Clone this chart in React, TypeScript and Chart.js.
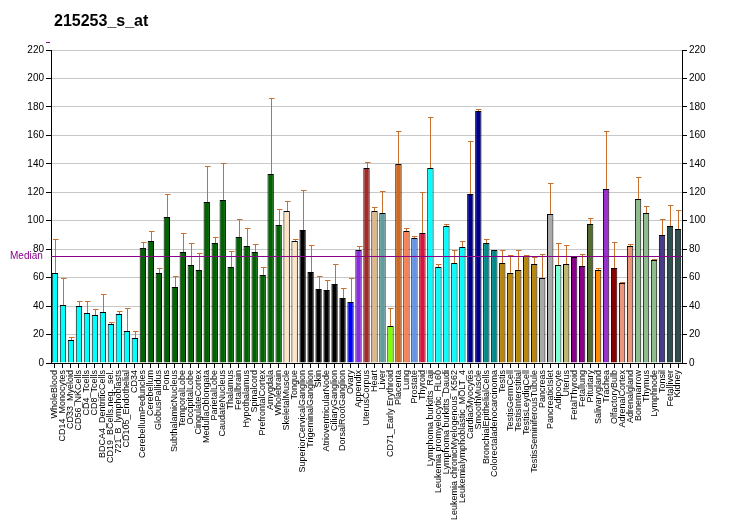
import React, { useEffect, useRef } from "react";
import { Chart, registerables } from "chart.js";

Chart.register(...registerables);

const title = "215253_s_at";

const categories = [
  "WholeBlood", "CD14_Monocytes", "CD33_Myeloid", "CD56_NKCells", "CD4_Tcells", "CD8_Tcells",
  "BDCA4_DentriticCells", "CD19_BCells.neg._sel.", "721_B_lymphoblasts", "CD105_Endothelial", "CD34",
  "CerebellumPeduncles", "Cerebellum", "GlobusPallidus", "Pons", "SubthalamicNucleus", "TemporalLobe",
  "OccipitalLobe", "CingulateCortex", "MedullaOblongata", "ParietalLobe", "CaudateNucleus", "Thalamus",
  "Fetalbrain", "Hypothalamus", "Spinalcord", "PrefrontalCortex", "Amygdala", "Wholebrain",
  "SkeletalMuscle", "Tongue", "SuperiorCervicalGanglion", "TrigeminalGanglion", "Skin",
  "AtrioventricularNode", "CiliaryGanglion", "DorsalRootGanglion", "Ovary", "Appendix", "UterusCorpus",
  "Heart", "Liver", "CD71_Early Erythroid", "Placenta", "Lung", "Prostate", "Thyroid",
  "Lymphoma burkitts_Raji", "Leukemia promyelocytic_HL60", "Lymphoma burkitts_Daudi",
  "Leukemia chronicMyelogenous_K562", "Leukemialymphoblastic_MOLT_4", "CardiacMyocytes", "SmoothMuscle",
  "BronchialEpithelialCells", "Colorectaladenocarcinoma", "Testis", "TestisGermCell", "TestisInterstitial",
  "TestisLeydigCell", "TestisSeminiferousTubule", "Pancreas", "PancreaticIslet", "Adipocyte", "Uterus",
  "FetalThyroid", "Fetallung", "Pituitary", "Salivarygland", "Trachea", "OlfactoryBulb", "AdrenalCortex",
  "Adrenalgland", "Bonemarrow", "Thymus", "Lymphnode", "Tonsil", "Fetalliver", "Kidney",
];

const values = [
  63.3, 40.8, 16.2, 40.1, 35.1, 33.7, 35.8, 27.4, 34.4, 22.5, 17.6,
  80.8, 85.8, 63.3, 102.6, 53.4, 78.0, 68.9, 65.4, 113.2, 84.3, 114.6, 67.5,
  88.6, 82.2, 78.0, 61.9, 132.8, 97.0,
  106.8, 85.8, 93.5, 64.0, 52.0, 51.3, 55.5, 45.7, 42.9, 79.4, 137.1,
  106.8, 105.4, 26.0, 139.9, 92.8, 87.9, 91.4,
  137.1, 67.5, 96.3, 70.3, 81.5, 118.8, 177.1,
  84.3, 79.4, 70.3, 63.3, 65.4, 75.2, 69.6, 59.7, 104.7, 68.9, 69.6,
  74.5, 68.2, 97.7, 65.4, 122.3, 66.8, 56.2, 82.2, 115.3, 105.4, 72.4, 90.0, 96.3, 94.2,
];

const errorTops = [
  87.2, 59.7, 18.3, 43.6, 43.6, 38.0, 48.5, 28.8, 36.6, 38.7, 22.5,
  85.1, 92.8, 66.8, 118.8, 61.2, 91.4, 84.3, 77.3, 138.5, 88.6, 140.6, 78.7,
  101.2, 94.9, 83.6, 67.5, 186.3, 108.2,
  113.9, 87.2, 121.6, 82.9, 61.2, 58.3, 69.6, 52.7, 59.7, 82.2, 141.3,
  109.7, 120.9, 38.7, 163.1, 94.9, 89.3, 120.2,
  172.9, 69.6, 97.7, 79.4, 85.8, 156.0, 178.5,
  87.2, 79.4, 79.4, 75.9, 79.4, 75.9, 74.5, 76.6, 126.5, 84.3, 82.9,
  74.5, 76.6, 101.9, 66.8, 163.1, 85.1, 56.9, 83.6, 130.7, 110.4, 73.1, 101.2, 111.1, 107.5,
];

const barColors = [
  ...Array(11).fill("#00FFFF"),
  ...Array(18).fill("#006400"),
  "#FFE4C4", "#FFE4C4",
  ...Array(6).fill("#000000"),
  "#0000FF", "#8A2BE2", "#A52A2A", "#DEB887", "#5F9EA0", "#7FFF00", "#D2691E", "#FF7F50", "#6495ED", "#DC143C",
  ...Array(5).fill("#00FFFF"),
  "#00008B", "#00008B",
  "#008B8B", "#008B8B",
  ...Array(5).fill("#B8860B"),
  "#A9A9A9", "#A9A9A9",
  "#7FFFD4", "#BDB76B",
  "#8B008B", "#8B008B",
  "#556B2F", "#FF8C00", "#9932CC", "#8B0000",
  "#E9967A", "#E9967A",
  "#8FBC8F", "#8FBC8F", "#8FBC8F",
  "#483D8B", "#2F4F4F", "#2F4F4F",
];

const median = 75.2;
const yTicks = [0, 20, 40, 60, 80, 100, 120, 140, 160, 180, 200, 220];

const FONT = "'Liberation Sans', Arial, sans-serif";

const overlayPlugin = {
  id: "overlay",
  afterDatasetsDraw(chart: any) {
    const ctx = chart.ctx;
    const x = chart.scales.x;
    const y = chart.scales.y;
    const area = chart.chartArea;
    ctx.save();
    // error bars
    ctx.strokeStyle = "#C8702F";
    ctx.lineWidth = 1;
    const meta = chart.getDatasetMeta(0);
    meta.data.forEach((bar: any, i: number) => {
      const top = errorTops[i];
      if (top == null || top <= values[i] + 0.3) return;
      const cx = Math.round(bar.x) + 0.5;
      const y0 = y.getPixelForValue(values[i]);
      const y1 = Math.round(y.getPixelForValue(top)) + 0.5;
      ctx.beginPath();
      ctx.moveTo(cx, y0);
      ctx.lineTo(cx, y1);
      ctx.moveTo(cx - 2.5, y1);
      ctx.lineTo(cx + 3, y1);
      ctx.stroke();
    });
    // median line
    const my = Math.round(y.getPixelForValue(median)) + 0.5;
    ctx.strokeStyle = "#8B008B";
    ctx.beginPath();
    ctx.moveTo(area.left, my);
    ctx.lineTo(area.right, my);
    ctx.stroke();
    ctx.fillStyle = "#8B008B";
    ctx.font = "10px " + FONT;
    ctx.textAlign = "left";
    ctx.textBaseline = "middle";
    ctx.fillText("Median", 10, my);
    ctx.beginPath();
    ctx.moveTo(46, 42.5);
    ctx.lineTo(50, 42.5);
    ctx.stroke();
    // title
    ctx.fillStyle = "#000000";
    ctx.font = "bold 16px " + FONT;
    ctx.textBaseline = "middle";
    ctx.fillText(title, 54, 22);
    ctx.restore();
  },
};

export default function App() {
  const ref = useRef<HTMLCanvasElement | null>(null);
  useEffect(() => {
    if (!ref.current) return;
    const chart = new Chart(ref.current, {
      type: "bar",
      data: {
        labels: categories,
        datasets: [
          {
            data: values,
            backgroundColor: barColors,
            borderColor: "#000000",
            borderWidth: 1,
            barPercentage: 0.8,
            categoryPercentage: 1,
          },
        ],
      },
      options: {
        animation: false,
        responsive: false,
        maintainAspectRatio: false,
        layout: { padding: { top: 50, left: 0, right: 0, bottom: 0 } },
        plugins: { legend: { display: false }, tooltip: { enabled: false }, title: { display: false } },
        scales: {
          x: {
            offset: true,
            grid: { display: true, drawOnChartArea: false, drawTicks: true, tickLength: 5, color: "#000000", offset: false },
            border: { color: "#000000" },
            ticks: {
              autoSkip: false,
              maxRotation: 90,
              minRotation: 90,
              padding: 2,
              color: "#000000",
              font: { size: 9, family: FONT },
            },
            afterFit(scale: any) {
              scale.height = 167;
            },
          },
          y: {
            position: "left",
            min: 0,
            max: 220,
            afterBuildTicks(scale: any) {
              scale.ticks = yTicks.map((v) => ({ value: v }));
            },
            grid: { color: "#C8C8C8", tickColor: "#000000", tickLength: 5 },
            border: { color: "#000000" },
            ticks: { color: "#000000", padding: 2, font: { size: 10, family: FONT } },
            afterFit(scale: any) {
              scale.width = 51;
            },
          },
          y2: {
            position: "right",
            min: 0,
            max: 220,
            afterBuildTicks(scale: any) {
              scale.ticks = yTicks.map((v) => ({ value: v }));
            },
            grid: { drawOnChartArea: false, tickColor: "#000000", tickLength: 5 },
            border: { color: "#000000" },
            ticks: { color: "#000000", padding: 2, font: { size: 10, family: FONT } },
            afterFit(scale: any) {
              scale.width = 50;
            },
          },
        },
      },
      plugins: [overlayPlugin],
    } as any);
    return () => chart.destroy();
  }, []);
  return (
    <div style={{ position: "fixed", left: 0, top: 0, width: 732, height: 530, background: "#fff" }}>
      <canvas ref={ref} width={732} height={530} style={{ width: 732, height: 530 }} />
    </div>
  );
}
